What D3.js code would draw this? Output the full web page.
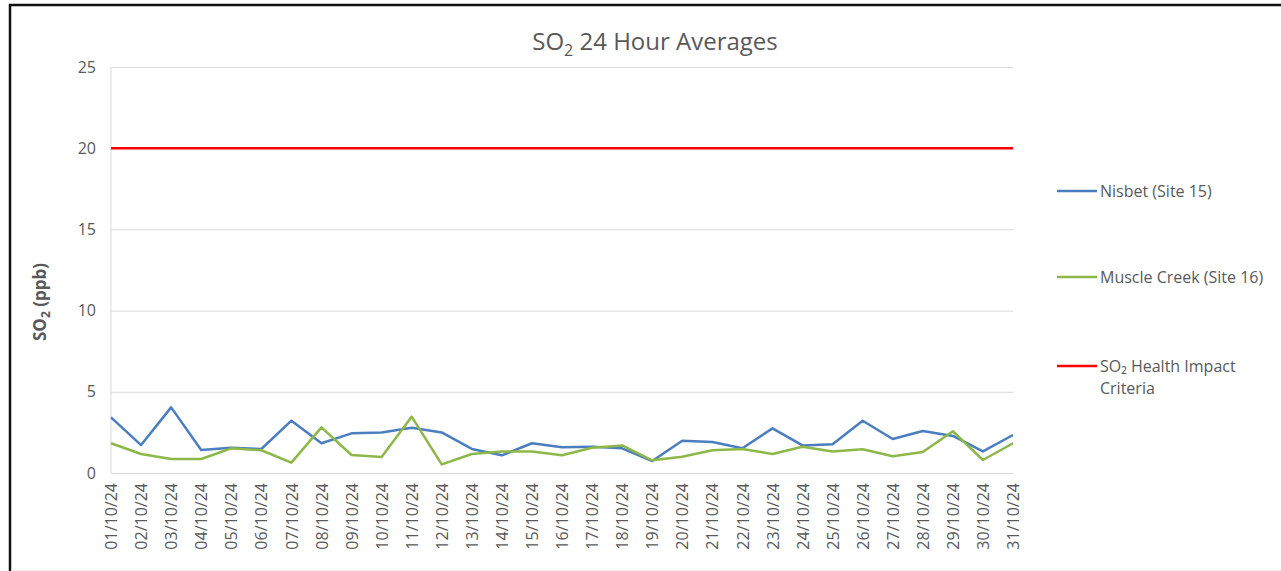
<!DOCTYPE html>
<html lang="en">
<head>
  <meta charset="UTF-8">
  <title>SO2 24 Hour Averages</title>
  <style>
    body {
      margin: 0;
      padding: 0;
      background-color: #fff;
      font-family: "Open Sans", sans-serif;
    }

    .grid line {
      stroke: #d9d9d9;
      stroke-width: 1px;
    }

    .axis text {
      fill: #595959;
    }

    .line {
      fill: none;
      stroke-width: 2.5px;
      stroke-linejoin: round;
    }
  </style>
</head>
<body>
  <div class="chart"></div>

  <script src="https://d3js.org/d3.v7.min.js"></script>
  <script>
    const dates = ["01/10/24", "02/10/24", "03/10/24", "04/10/24", "05/10/24", "06/10/24", "07/10/24",
      "08/10/24", "09/10/24", "10/10/24", "11/10/24", "12/10/24", "13/10/24", "14/10/24", "15/10/24",
      "16/10/24", "17/10/24", "18/10/24", "19/10/24", "20/10/24", "21/10/24", "22/10/24", "23/10/24",
      "24/10/24", "25/10/24", "26/10/24", "27/10/24", "28/10/24", "29/10/24", "30/10/24", "31/10/24"];

    const nisbet = [3.43, 1.72, 4.04, 1.42, 1.56, 1.48, 3.22, 1.83, 2.44, 2.50, 2.79, 2.50, 1.48, 1.09,
      1.83, 1.58, 1.62, 1.52, 0.74, 1.99, 1.91, 1.52, 2.75, 1.70, 1.77, 3.22, 2.09, 2.59, 2.28, 1.33, 2.34];

    const muscleCreek = [1.83, 1.17, 0.86, 0.86, 1.52, 1.40, 0.64, 2.81, 1.11, 0.99, 3.47, 0.53, 1.17, 1.33,
      1.33, 1.09, 1.56, 1.70, 0.78, 1.00, 1.40, 1.48, 1.17, 1.62, 1.33, 1.46, 1.03, 1.29, 2.57, 0.80, 1.83];

    const criteria = 20;
    const yTicks = [0, 5, 10, 15, 20, 25];

    const W = 1281, H = 571;
    const margin = { top: 67, right: 268, bottom: 98, left: 111 };
    const width = W - margin.left - margin.right;
    const height = H - margin.top - margin.bottom;

    const root = d3.select(".chart")
      .append("svg")
        .attr("width", W)
        .attr("height", H);

    // frame
    root.append("line").attr("x1", 10).attr("x2", 10).attr("y1", 4).attr("y2", H)
      .attr("stroke", "#111").attr("stroke-width", 2.5);
    root.append("line").attr("x1", 9).attr("x2", W).attr("y1", 5).attr("y2", 5)
      .attr("stroke", "#111").attr("stroke-width", 2.5);
    root.append("line").attr("x1", 11).attr("x2", W).attr("y1", 570).attr("y2", 570)
      .attr("stroke", "#e6e6e6").attr("stroke-width", 1);

    const svg = root.append("g")
      .attr("transform", `translate(${margin.left},${margin.top})`);

    // Scales
    const xScale = d3.scalePoint()
      .domain(dates)
      .range([0, width]);

    const yScale = d3.scaleLinear()
      .domain([0, 25])
      .range([height, 0]);

    // Gridlines
    svg.append("g")
      .attr("class", "grid")
      .call(d3.axisLeft(yScale).tickValues(yTicks).tickSize(-width).tickFormat(""))
      .call(g => g.select(".domain").remove());

    // left axis line
    svg.append("line")
      .attr("x1", 0).attr("x2", 0)
      .attr("y1", 0).attr("y2", height)
      .attr("stroke", "#d9d9d9");

    // Y axis labels
    svg.append("g")
      .attr("class", "axis")
      .call(d3.axisLeft(yScale).tickValues(yTicks).tickSize(0).tickPadding(15))
      .call(g => g.select(".domain").remove())
      .selectAll("text")
        .style("font-size", "16px")
        .style("font-family", "Open Sans, sans-serif");

    // X axis labels
    svg.append("g")
      .attr("class", "axis")
      .attr("transform", `translate(0,${height})`)
      .call(d3.axisBottom(xScale).tickSize(0))
      .call(g => g.select(".domain").attr("stroke", "#d9d9d9"))
      .selectAll("text")
        .attr("transform", "rotate(-90)")
        .attr("text-anchor", "end")
        .attr("x", -10)
        .attr("y", 0)
        .attr("dy", "0.35em")
        .style("font-size", "16px")
        .style("font-family", "Open Sans, sans-serif");

    // Criteria line
    svg.append("line")
      .attr("x1", 0).attr("x2", width)
      .attr("y1", yScale(criteria)).attr("y2", yScale(criteria))
      .attr("stroke", "#ff0000").attr("stroke-width", 2.5);

    const lineGenerator = d3.line()
      .x((d, i) => xScale(dates[i]))
      .y(d => yScale(d));

    svg.append("path")
      .datum(nisbet)
      .attr("class", "line")
      .attr("stroke", "#4a7ebf")
      .attr("d", lineGenerator);

    svg.append("path")
      .datum(muscleCreek)
      .attr("class", "line")
      .attr("stroke", "#8db849")
      .attr("d", lineGenerator);

    // Title
    const title = root.append("text")
      .attr("x", 655)
      .attr("y", 50)
      .attr("text-anchor", "middle")
      .attr("fill", "#595959")
      .style("font-size", "24px")
      .style("font-family", "Open Sans, sans-serif");
    title.append("tspan").text("SO");
    title.append("tspan").attr("dy", 6).style("font-size", "16px").text("2");
    title.append("tspan").attr("dy", -6).text(" 24 Hour Averages");

    // Y Axis Label
    const yLab = root.append("text")
      .attr("text-anchor", "middle")
      .attr("transform", "rotate(-90)")
      .attr("x", -302)
      .attr("y", 46)
      .attr("fill", "#595959")
      .style("font-size", "17px")
      .style("font-weight", "bold")
      .style("font-family", "Open Sans, sans-serif");
    yLab.append("tspan").text("SO");
    yLab.append("tspan").attr("dy", 4).style("font-size", "12px").text("2");
    yLab.append("tspan").attr("dy", -4).text(" (ppb)");

    // Legend
    const legendItems = [
      { lines: ["Nisbet (Site 15)"], color: "#4a7ebf", y: 191 },
      { lines: ["Muscle Creek (Site 16)"], color: "#8db849", y: 277 },
      { lines: ["SO₂ Health Impact", "Criteria"], color: "#ff0000", y: 366 }
    ];

    const legend = root.append("g");
    legendItems.forEach(item => {
      legend.append("line")
        .attr("x1", 1057).attr("x2", 1097)
        .attr("y1", item.y).attr("y2", item.y)
        .attr("stroke", item.color).attr("stroke-width", 2.5);
      item.lines.forEach((t, j) => {
        legend.append("text")
          .attr("x", 1100)
          .attr("y", item.y + j * 22)
          .attr("dy", "0.35em")
          .attr("fill", "#595959")
          .style("font-size", "16px")
          .style("font-family", "Open Sans, sans-serif")
          .text(t);
      });
    });
  </script>
</body>
</html>
